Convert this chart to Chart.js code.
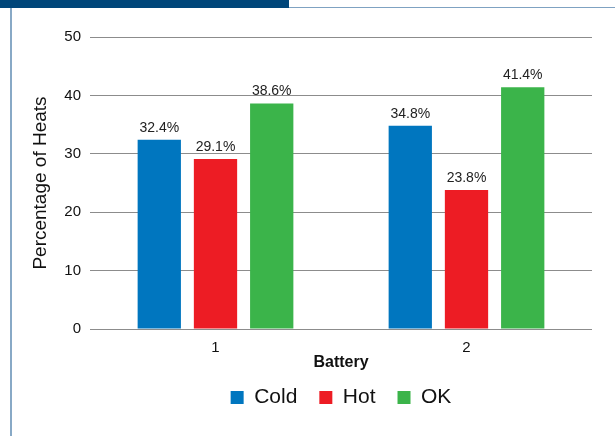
<!DOCTYPE html>
<html>
<head>
<meta charset="utf-8">
<script src="https://cdn.jsdelivr.net/npm/chart.js@4.4.1/dist/chart.umd.min.js"></script>
<style>
    html, body { margin: 0; padding: 0; background: #fff; }
    #frame { position: relative; width: 615px; height: 436px; overflow: hidden; }
    .topbar { position: absolute; left: 0; top: 0; width: 289px; height: 8px; background: #00467a; }
    .topline { position: absolute; left: 289px; top: 7px; width: 326px; height: 1px; background: #7fa2c2; }
    .leftline { position: absolute; left: 10px; top: 8px; width: 2px; height: 428px; background: #88a9c6; }
    #chart { position: absolute; left: 0; top: 0; }
</style>
</head>
<body>
<div id="frame">
    <div class="topbar"></div>
    <div class="topline"></div>
    <div class="leftline"></div>
    <canvas id="chart" width="615" height="436"></canvas>
</div>
<script>
const categories = ['1', '2'];
const seriesNames = ['Cold', 'Hot', 'OK'];
const coldValues = [32.4, 34.8];
const hotValues = [29.1, 23.8];
const okValues = [38.6, 41.4];
const yTicks = [0, 10, 20, 30, 40, 50];

const colors = ['#0076bf', '#ed1c24', '#3bb44a'];
const FONT = "'Liberation Sans', Arial, Helvetica, sans-serif";

// draws the "32.4%" labels above each bar
const valueLabels = {
    id: 'valueLabels',
    afterDatasetsDraw(chart) {
        const ctx = chart.ctx;
        ctx.save();
        ctx.font = `14px ${FONT}`;
        ctx.fillStyle = '#222';
        ctx.textAlign = 'center';
        ctx.textBaseline = 'bottom';
        chart.data.datasets.forEach((ds, i) => {
            chart.getDatasetMeta(i).data.forEach((bar, j) => {
                ctx.fillText(ds.data[j].toFixed(1) + '%', bar.x, bar.y - 5);
            });
        });
        ctx.restore();
    }
};

new Chart(document.getElementById('chart'), {
    type: 'bar',
    data: {
        labels: categories,
        datasets: [coldValues, hotValues, okValues].map((vals, i) => ({
            label: seriesNames[i],
            data: vals,
            backgroundColor: colors[i],
            categoryPercentage: 0.672,
            barPercentage: 0.77
        }))
    },
    options: {
        responsive: false,
        animation: false,
        layout: { padding: { top: 37, right: 23, left: 29, bottom: 18 } },
        plugins: {
            tooltip: { enabled: false },
            legend: {
                position: 'bottom',
                fullSize: false,
                labels: {
                    font: { family: FONT, size: 21 },
                    color: '#111',
                    boxWidth: 13,
                    boxHeight: 13,
                    padding: 22
                }
            }
        },
        scales: {
            x: {
                grid: { display: false, drawTicks: false },
                border: { display: false },
                ticks: { font: { family: FONT, size: 15 }, color: '#111', padding: 10 },
                title: {
                    display: true,
                    text: 'Battery',
                    font: { family: FONT, size: 16, weight: 'bold' },
                    color: '#111',
                    padding: { top: 0, bottom: -7 }
                },
                afterFit(scale) { scale.height = 36; }
            },
            y: {
                min: 0,
                max: 50,
                afterBuildTicks(scale) { scale.ticks = yTicks.map(v => ({ value: v })); },
                grid: { color: '#8c8c8c', drawTicks: false, lineWidth: 1 },
                border: { display: false },
                ticks: { font: { family: FONT, size: 15 }, color: '#111', padding: 9 },
                title: {
                    display: true,
                    text: 'Percentage of Heats',
                    font: { family: FONT, size: 19 },
                    color: '#111',
                    padding: { top: 0, bottom: 0 }
                },
                afterFit(scale) { scale.width = 61; }
            }
        }
    },
    plugins: [valueLabels]
});
</script>
</body>
</html>
